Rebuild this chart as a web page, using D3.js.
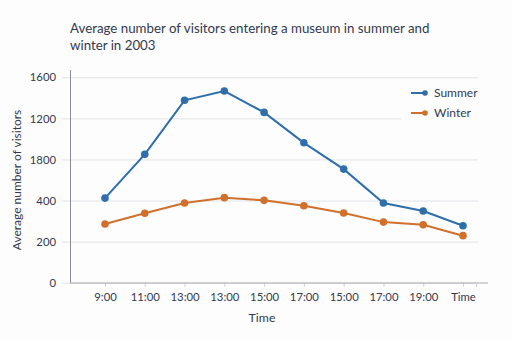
<!DOCTYPE html>
<html>
<head>
<meta charset="utf-8">
<script src="https://cdn.jsdelivr.net/npm/d3@7"></script>
<style>
  html, body { margin: 0; padding: 0; background: #fdfdfe; }
  svg { display: block; font-family: Lato, "Open Sans", sans-serif; }
</style>
</head>
<body>
<svg id="chart" width="512" height="341"></svg>
<script>
const categories = ["9:00","11:00","13:00","13:00","15:00","17:00","15:00","17:00","19:00","Time"];
const summer = [412, 625, 888, 933, 829, 681, 553, 388, 349, 277];
const winter = [286, 338, 388, 414, 401, 375, 339, 295, 282, 229];
const yTickValues = [0, 200, 400, 600, 800, 1000];
const yTickLabels = ["0", "200", "400", "1800", "1200", "1600"];
const seriesNames = ["Summer", "Winter"];
const seriesColors = ["#2f6eab", "#d0702b"];

const svg = d3.select("#chart");
const textColor = "#333a4d";

const x = d3.scalePoint().domain(d3.range(categories.length)).range([105, 463]);
const y = d3.scaleLinear().domain([0, 1000]).range([282.7, 77.3]);

// title
const title = svg.append("text").attr("x", 70).attr("y", 33)
  .attr("fill", textColor).attr("font-size", 13.3);
title.append("tspan").attr("x", 70).attr("dy", 0).text("Average number of visitors entering a museum in summer and");
title.append("tspan").attr("x", 70).attr("dy", 17).text("winter in 2003");

// gridlines + y labels
const yAxis = d3.axisLeft(y).tickValues(yTickValues)
  .tickSize(-(478 - 62)).tickPadding(6)
  .tickFormat((d, i) => yTickLabels[i]);
const gy = svg.append("g").attr("transform", "translate(62,0)").call(yAxis);
gy.select(".domain").remove();
gy.selectAll(".tick line").attr("stroke", "#e2e3e6").attr("stroke-width", 1);
gy.selectAll(".tick text").attr("fill", textColor).attr("font-size", 11.3)
  .attr("font-family", "Lato, sans-serif");

// y axis line
svg.append("line").attr("x1", 70.5).attr("x2", 70.5).attr("y1", 70).attr("y2", 283)
  .attr("stroke", "#8a8d94").attr("stroke-width", 1);

// x axis
const xAxis = d3.axisBottom(x).tickSize(4).tickPadding(6)
  .tickFormat(i => categories[i]);
const gx = svg.append("g").attr("transform", "translate(0,282.7)").call(xAxis);
gx.select(".domain").remove();
gx.selectAll(".tick line").attr("stroke", "#d0d2d6");
gx.selectAll(".tick text").attr("fill", textColor).attr("font-size", 11.3)
  .attr("font-family", "Lato, sans-serif");
svg.append("line").attr("x1", 70).attr("x2", 488).attr("y1", 283).attr("y2", 283)
  .attr("stroke", "#a8abb1").attr("stroke-width", 1);
svg.append("line").attr("x1", 476.5).attr("x2", 476.5).attr("y1", 283).attr("y2", 287)
  .attr("stroke", "#d0d2d6");

// axis titles
svg.append("text").attr("x", 262).attr("y", 322).attr("text-anchor", "middle")
  .attr("fill", textColor).attr("font-size", 12.3).text("Time");
svg.append("text").attr("transform", "translate(21,180) rotate(-90)")
  .attr("text-anchor", "middle").attr("fill", textColor).attr("font-size", 12)
  .text("Average number of visitors");

// legend background
svg.append("rect").attr("x", 401).attr("y", 82).attr("width", 90).attr("height", 42)
  .attr("fill", "#fdfdfe");

// series
const data = [summer, winter];
const line = d3.line().x((d, i) => x(i)).y(d => y(d));
data.forEach((vals, s) => {
  svg.append("path").datum(vals).attr("d", line).attr("fill", "none")
    .attr("stroke", seriesColors[s]).attr("stroke-width", 2);
  svg.selectAll(null).data(vals).enter().append("circle")
    .attr("cx", (d, i) => x(i)).attr("cy", d => y(d)).attr("r", 3.8)
    .attr("fill", seriesColors[s]);
});

// legend
seriesNames.forEach((name, s) => {
  const ly = 93 + s * 20;
  svg.append("line").attr("x1", 411).attr("x2", 426).attr("y1", ly).attr("y2", ly)
    .attr("stroke", seriesColors[s]).attr("stroke-width", 2);
  svg.append("circle").attr("cx", 425).attr("cy", ly).attr("r", 2.8).attr("fill", seriesColors[s]);
  svg.append("text").attr("x", 434).attr("y", ly + 4).attr("fill", textColor)
    .attr("font-size", 12).text(name);
});
</script>
</body>
</html>
